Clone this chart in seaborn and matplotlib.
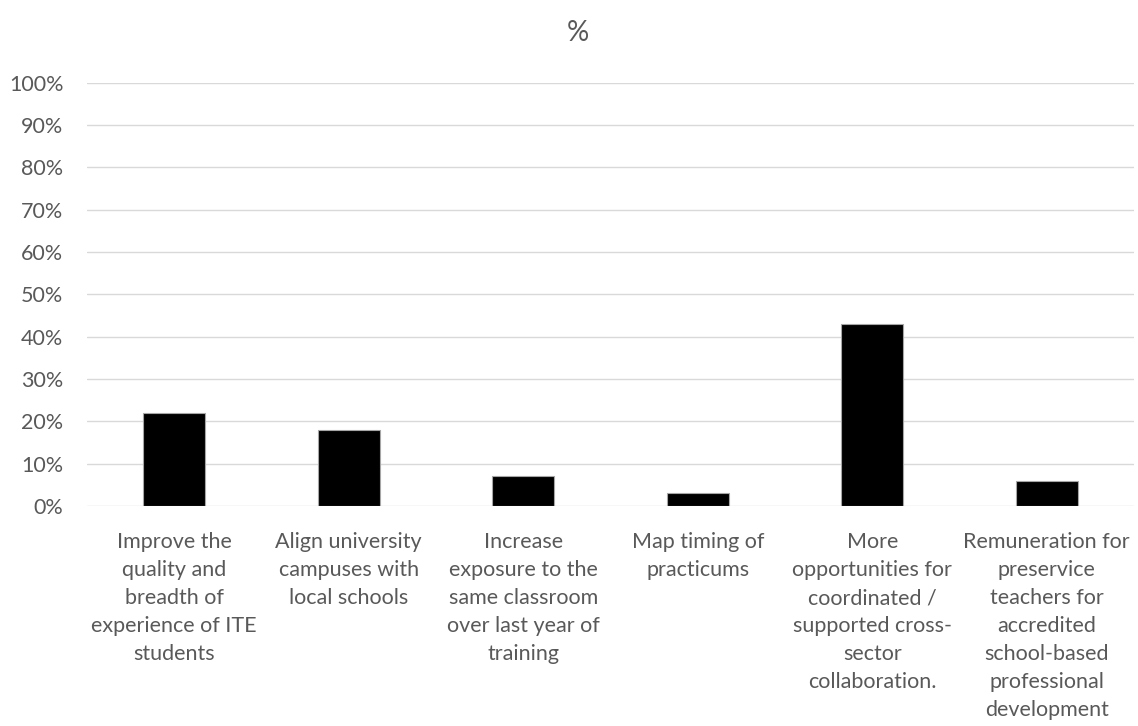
import matplotlib
matplotlib.use("Agg")
import matplotlib.pyplot as plt
import seaborn as sns
import pandas as pd
from matplotlib.ticker import PercentFormatter, MultipleLocator

categories = [
    "Improve the\nquality and\nbreadth of\nexperience of ITE\nstudents",
    "Align university\ncampuses with\nlocal schools",
    "Increase\nexposure to the\nsame classroom\nover last year of\ntraining",
    "Map timing of\npracticums",
    "More\nopportunities for\ncoordinated /\nsupported cross-\nsector\ncollaboration.",
    "Remuneration for\npreservice\nteachers for\naccredited\nschool-based\nprofessional\ndevelopment",
]
values = [0.22, 0.18, 0.07, 0.03, 0.43, 0.06]
title = "%"

sns.set_theme(style="white")
plt.rcParams["font.family"] = ["Lato", "DejaVu Sans"]

df = pd.DataFrame({"category": categories, "value": values})

fig = plt.figure(figsize=(11.38, 7.26), dpi=100)
ax = fig.add_axes([0.0765, 0.303, 0.92, 0.583])

sns.barplot(data=df, x="category", y="value", color="black", width=0.356,
            edgecolor="#a6a6a6", linewidth=0.8, ax=ax, zorder=3)

ax.set_ylim(0, 1.0)
ax.set_xlim(-0.5, len(categories) - 0.5)
ax.yaxis.set_major_locator(MultipleLocator(0.1))
ax.yaxis.set_major_formatter(PercentFormatter(1.0, decimals=0))
ax.grid(axis="y", color="#d9d9d9", linewidth=1.0, zorder=0)
ax.set_axisbelow(True)
for s in ax.spines.values():
    s.set_visible(False)
ax.set_xlabel("")
ax.set_ylabel("")
ax.tick_params(axis="both", length=0, colors="#595959", labelsize=15.5)
ax.tick_params(axis="y", pad=17)
ax.tick_params(axis="x", pad=19)
for lbl in ax.get_xticklabels():
    lbl.set_linespacing(1.5)
    lbl.set_verticalalignment("top")

fig.suptitle(title, x=0.508, y=0.972, fontsize=20, color="#595959")

fig.savefig("out.png", dpi=100, facecolor="white")
